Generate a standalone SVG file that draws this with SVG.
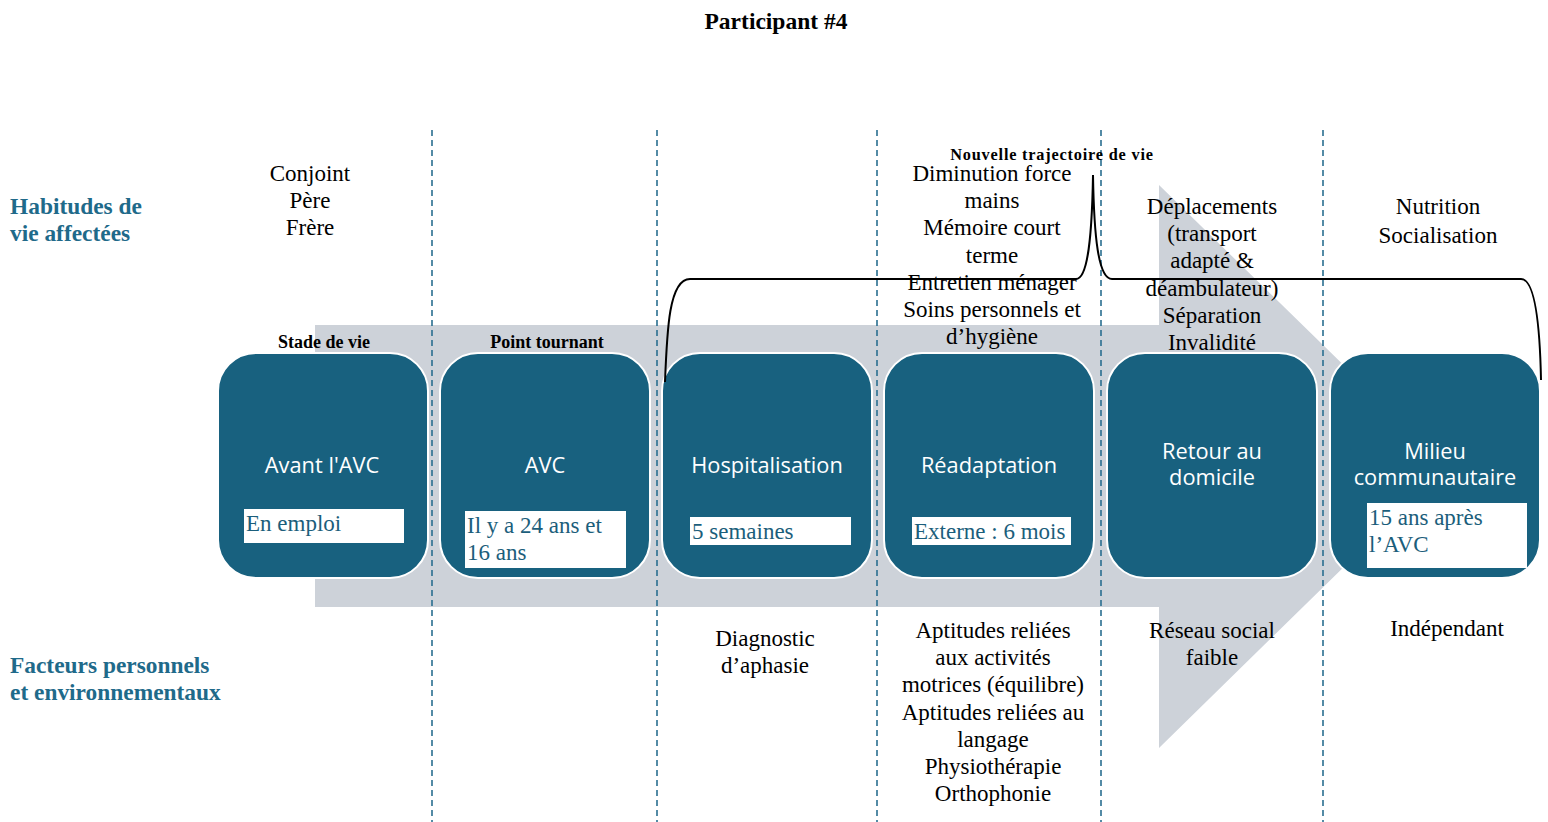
<svg xmlns="http://www.w3.org/2000/svg" width="1548" height="822" viewBox="0 0 1548 822">
  <style>
    .serif { font-family: "Liberation Serif", "Times New Roman", serif; fill: #000; }
    .txt { font-size: 23px; text-anchor: middle; }
    .head { font-family: "Liberation Serif", serif; font-weight: bold; font-size: 23.4px; fill: #1f6a8a; }
    .small-b { font-family: "Liberation Serif", serif; font-weight: bold; font-size: 18px; text-anchor: middle; fill: #000; }
    .small-b.traj { font-size: 16.3px; letter-spacing: 0.8px; }
    .node rect.card { fill: #18617f; stroke: #ffffff; stroke-width: 2; }
    .node text.lbl { font-family: "Open Sans", "Liberation Sans", sans-serif; font-size: 21.8px; fill: #ffffff; text-anchor: middle; }
    .node rect.tag { fill: #ffffff; }
    .node text.tagtxt { font-family: "Liberation Serif", serif; font-size: 23px; fill: #1b5e7b; }
    .divider { stroke: #2a6f90; stroke-width: 1.6; stroke-dasharray: 6 4; fill: none; }
    .brace { fill: none; stroke: #000; stroke-width: 2; }
  </style>

  <!-- title -->
  <text class="serif" x="776" y="29" font-size="23.5" font-weight="bold" text-anchor="middle">Participant #4</text>

  <!-- background timeline arrow -->
  <polygon id="timeline-arrow" points="315,325 1159,325 1159,185 1447,466 1159,748 1159,607 315,607" fill="#cdd2d9"/>

  <!-- column dividers -->
  <g id="dividers">
    <line class="divider" x1="432" y1="130" x2="432" y2="822"/>
    <line class="divider" x1="657" y1="130" x2="657" y2="822"/>
    <line class="divider" x1="877" y1="130" x2="877" y2="822"/>
    <line class="divider" x1="1101" y1="130" x2="1101" y2="822"/>
    <line class="divider" x1="1323" y1="130" x2="1323" y2="822"/>
  </g>

  <!-- row headings -->
  <text class="head" x="10" y="214">Habitudes de</text>
  <text class="head" x="10" y="241">vie affectées</text>
  <text class="head" x="10" y="673">Facteurs personnels</text>
  <text class="head" x="10" y="700">et environnementaux</text>

  <!-- stage captions -->
  <text class="small-b" x="324" y="348">Stade de vie</text>
  <text class="small-b" x="547" y="348">Point tournant</text>

  <!-- nodes -->
  <g id="node-avant" class="node">
    <rect class="card" x="218" y="353" width="210" height="225" rx="38"/>
    <text class="lbl" x="322" y="473">Avant l'AVC</text>
    <rect class="tag" x="244" y="509" width="160" height="34"/>
    <text class="tagtxt" x="246" y="531">En emploi</text>
  </g>
  <g id="node-avc" class="node">
    <rect class="card" x="440" y="353" width="210" height="225" rx="38"/>
    <text class="lbl" x="545" y="473">AVC</text>
    <rect class="tag" x="465" y="511" width="161" height="57"/>
    <text class="tagtxt" x="467" y="533">Il y a 24 ans et</text>
    <text class="tagtxt" x="467" y="560">16 ans</text>
  </g>
  <g id="node-hospitalisation" class="node">
    <rect class="card" x="662" y="353" width="210" height="225" rx="38"/>
    <text class="lbl" x="767" y="473">Hospitalisation</text>
    <rect class="tag" x="690" y="517" width="161" height="28"/>
    <text class="tagtxt" x="692" y="539">5 semaines</text>
  </g>
  <g id="node-readaptation" class="node">
    <rect class="card" x="884" y="353" width="210" height="225" rx="38"/>
    <text class="lbl" x="989" y="473">Réadaptation</text>
    <rect class="tag" x="912" y="517" width="159" height="28"/>
    <text class="tagtxt" x="914" y="539">Externe : 6 mois</text>
  </g>
  <g id="node-retour" class="node">
    <rect class="card" x="1107" y="353" width="210" height="225" rx="38"/>
    <text class="lbl" x="1212" y="459">Retour au</text>
    <text class="lbl" x="1212" y="485">domicile</text>
  </g>
  <g id="node-milieu" class="node">
    <rect class="card" x="1330" y="353" width="210" height="225" rx="38"/>
    <text class="lbl" x="1435" y="459">Milieu</text>
    <text class="lbl" x="1435" y="485">communautaire</text>
    <rect class="tag" x="1367" y="503" width="160" height="65"/>
    <text class="tagtxt" x="1369" y="525">15 ans après</text>
    <text class="tagtxt" x="1369" y="552">l’AVC</text>
  </g>

  <!-- affected life habits -->
  <g class="serif txt">
    <text x="310" y="181">Conjoint</text>
    <text x="310" y="208">Père</text>
    <text x="310" y="235">Frère</text>

    <text x="992" y="181">Diminution force</text>
    <text x="992" y="208">mains</text>
    <text x="992" y="235">Mémoire court</text>
    <text x="992" y="263">terme</text>
    <text x="992" y="290">Entretien ménager</text>
    <text x="992" y="317">Soins personnels et</text>
    <text x="992" y="344">d’hygiène</text>

    <text x="1212" y="214">Déplacements</text>
    <text x="1212" y="241">(transport</text>
    <text x="1212" y="268">adapté &amp;</text>
    <text x="1212" y="296">déambulateur)</text>
    <text x="1212" y="323">Séparation</text>
    <text x="1212" y="350">Invalidité</text>

    <text x="1438" y="214">Nutrition</text>
    <text x="1438" y="243">Socialisation</text>
  </g>

  <!-- personal and environmental factors -->
  <g class="serif txt">
    <text x="765" y="646">Diagnostic</text>
    <text x="765" y="673">d’aphasie</text>

    <text x="993" y="638">Aptitudes reliées</text>
    <text x="993" y="665">aux activités</text>
    <text x="993" y="692">motrices (équilibre)</text>
    <text x="993" y="720">Aptitudes reliées au</text>
    <text x="993" y="747">langage</text>
    <text x="993" y="774">Physiothérapie</text>
    <text x="993" y="801">Orthophonie</text>

    <text x="1212" y="638">Réseau social</text>
    <text x="1212" y="665">faible</text>

    <text x="1447" y="636">Indépendant</text>
  </g>

  <!-- new life trajectory brace -->
  <g id="connectors">
    <path class="brace" d="M665,382 C667,330 669,279 690,279 L1076,279 C1088,279 1092,235 1093,175 C1094,235 1098,279 1112,279 L1521,279 C1536,279 1540,330 1541,380"/>
  </g>
  <text class="small-b traj" x="1052" y="160">Nouvelle trajectoire de vie</text>
</svg>
